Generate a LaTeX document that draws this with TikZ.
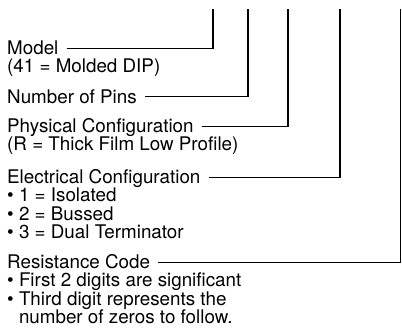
\documentclass[tikz,border=0pt]{standalone}
\usepackage{fontspec}
\setmainfont{TeX Gyre Heros}
\begin{document}
\begin{tikzpicture}[x=1pt,y=-1pt,
    lbl/.style={anchor=base west,inner sep=0pt,text height=12.5pt,text depth=0pt,
      font=\fontsize{18.8}{18.3}\selectfont},
    lead/.style={line width=1.3pt,shorten <=8pt}]
    \useasboundingbox (0,0) rectangle (402,327);

    % tops of the leader lines
    \coordinate (t1) at (213,9);
    \coordinate (t2) at (248,9);
    \coordinate (t3) at (288,9);
    \coordinate (t4) at (340,9);
    \coordinate (t5) at (400.5,9);

    \node[lbl] (model) at (7,54.5) {Model};
    \node[lbl] (model1) at (7,72.8) {(41 = Molded DIP)};

    \node[lbl] (pins) at (7,103) {Number of Pins};

    \node[lbl] (phys) at (7,132.5) {Physical Configuration};
    \node[lbl] (phys1) at (7,150.8) {(R = Thick Film Low Profile)};

    \node[lbl] (elec) at (7,183.5) {Electrical Configuration};
    \node[lbl] (elec1) at (7,201.8) {\textbullet\ 1 = Isolated};
    \node[lbl] (elec2) at (7,220.1) {\textbullet\ 2 = Bussed};
    \node[lbl] (elec3) at (7,238.4) {\textbullet\ 3 = Dual Terminator};

    \node[lbl] (res) at (7,268.5) {Resistance Code};
    \node[lbl] (res1) at (7,286.8) {\textbullet\ First 2 digits are significant};
    \node[lbl] (res2) at (7,305.1) {\textbullet\ Third digit represents the};
    \node[lbl] (res3) at (7,323.4) {\phantom{\textbullet\ }number of zeros to follow.};

    \draw[lead] (model.east) -| (t1);
    \draw[lead] (pins.east) -| (t2);
    \draw[lead] (phys.east) -| (t3);
    \draw[lead] (elec.east) -| (t4);
    \draw[lead] (res.east) -| (t5);
\end{tikzpicture}
\end{document}
